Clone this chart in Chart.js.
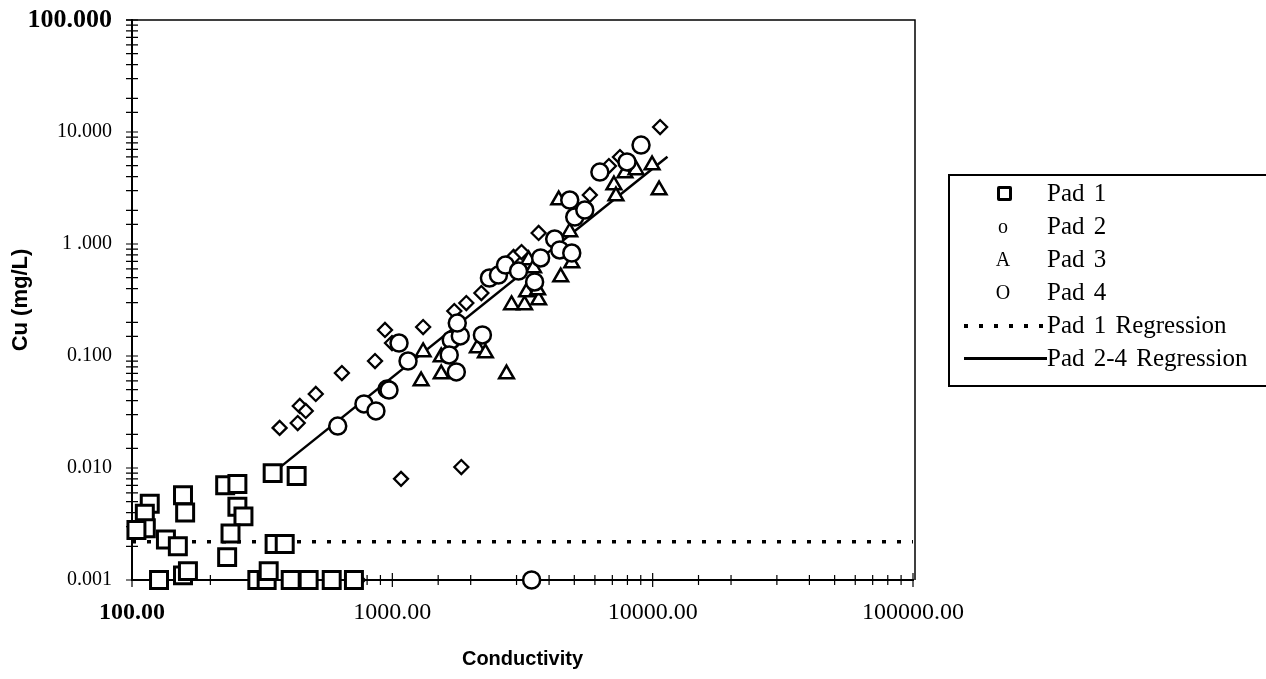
<!DOCTYPE html>
<html>
<head>
<meta charset="utf-8">
<script src="https://cdn.jsdelivr.net/npm/chart.js@4.4.1/dist/chart.umd.min.js"></script>
<style>
  body { margin: 0; background: #fff; }
  #wrap { position: relative; width: 1266px; height: 679px; overflow: hidden; }
  #legend { position: absolute; left: 948px; top: 174px; width: 340px; height: 213px;
            border: 2px solid #000; box-sizing: border-box; font-family: "Liberation Serif", serif; }
  .lab { position: absolute; left: 97px; font-size: 25px; line-height: 25px; white-space: pre; word-spacing: 3px; }
  .sym { position: absolute; font-size: 20px; line-height: 20px; text-align: center; width: 30px; left: 38px; }
</style>
</head>
<body>
<div id="wrap">
  <canvas id="cuChart" width="1266" height="679"></canvas>
  <div id="legend"></div>
</div>
<script>
// conductivity (x) and Cu mg/L (y)
var pad1Cond = [117, 112, 113, 104, 135, 150, 127, 157, 160, 157, 164, 228, 254, 254, 268, 239, 232, 347, 429, 353, 386, 303, 329, 335, 407, 477, 585, 712];
var pad1Cu = [0.0048, 0.0039, 0.0029, 0.0028, 0.0023, 0.0020, 0.0010, 0.0057, 0.0040, 0.0011, 0.0012, 0.0070, 0.0072, 0.0045, 0.0037, 0.0026, 0.0016, 0.0090, 0.0085, 0.0021, 0.0021, 0.0010, 0.0010, 0.0012, 0.0010, 0.0010, 0.0010, 0.0010];

var pad2Cond = [617, 778, 865, 954, 971, 1149, 1061, 1684, 1824, 1654, 1761, 2218, 1776, 2360, 2556, 2720, 3053, 3520, 3712, 4204, 4396, 4889, 4803, 5020, 5487, 6269, 7967, 9022, 3428];
var pad2Cu = [0.0237, 0.0373, 0.0323, 0.0507, 0.0497, 0.0902, 0.1306, 0.139, 0.151, 0.1021, 0.072, 0.154, 0.197, 0.497, 0.528, 0.649, 0.574, 0.458, 0.75, 1.108, 0.884, 0.831, 2.47, 1.742, 2.011, 4.39, 5.40, 7.65, 0.001];

var pad3Cond = [1313, 1541, 1290, 1541, 2122, 2278, 2745, 2870, 3220, 3278, 3647, 3614, 3337, 3488, 4434, 4889, 4803, 4356, 7827, 7099, 7227, 8630, 9948, 10585];
var pad3Cu = [0.1086, 0.0979, 0.0598, 0.069, 0.1179, 0.1063, 0.069, 0.2854, 0.2854, 0.3727, 0.3162, 0.388, 0.72, 0.611, 0.507, 0.676, 1.28, 2.47, 4.30, 3.36, 2.68, 4.58, 5.07, 3.03];

var pad4Cond = [369, 433, 441, 465, 508, 640, 858, 937, 997, 1313, 1080, 1841, 1730, 1924, 2198, 2922, 3135, 3647, 5736, 6790, 7488, 10680, 737];
var pad4Cu = [0.0228, 0.0252, 0.0358, 0.0323, 0.0458, 0.0705, 0.0902, 0.1707, 0.1306, 0.1815, 0.0080, 0.0102, 0.2522, 0.2973, 0.365, 0.766, 0.848, 1.254, 2.74, 4.97, 5.98, 11.08, 0.001];

// regression lines
var reg1Cond = [100, 100000];
var reg1Cu = [0.0022, 0.0022];
var reg24Cond = [347, 11400];
var reg24Cu = [0.0090, 6.0];

var xTickLabels = ['100.00', '1000.00', '10000.00', '100000.00'];
var yTickLabels = ['0.001', '0.010', '0.100', '1 .000', '10.000', '100.000'];
var legendLabels = ['Pad 1', 'Pad 2', 'Pad 3', 'Pad 4', 'Pad 1 Regression', 'Pad 2-4 Regression'];
var legendSymbols = ['', 'o', 'A', 'O', '', ''];

function pts(xs, ys) {
  return xs.map(function (v, i) { return { x: v, y: ys[i] }; });
}
function decade(v) {
  var l = Math.log10(v);
  return Math.abs(l - Math.round(l)) < 1e-6;
}

var frameTicks = {
  id: 'frameTicks',
  beforeDatasetsDraw: function (chart) {
    var ctx = chart.ctx, a = chart.chartArea;
    var xs = chart.scales.x, ys = chart.scales.y;
    ctx.save();
    ctx.strokeStyle = '#000';
    ctx.lineWidth = 1.5;
    ctx.beginPath();
    ctx.moveTo(a.left - 6, a.top);
    ctx.lineTo(a.right + 2, a.top);
    ctx.lineTo(a.right + 2, a.bottom);
    ctx.stroke();
    ctx.lineWidth = 1.2;
    ctx.beginPath();
    xs.ticks.forEach(function (t) {
      var p = xs.getPixelForValue(t.value);
      var len = decade(t.value) ? 7 : 5;
      ctx.moveTo(p, a.bottom - len);
      ctx.lineTo(p, a.bottom + len);
    });
    ys.ticks.forEach(function (t) {
      var p = ys.getPixelForValue(t.value);
      ctx.moveTo(a.left - 6, p);
      ctx.lineTo(a.left + 6, p);
    });
    ctx.stroke();
    ctx.restore();
  }
};

var markerBase = { borderColor: '#000', backgroundColor: '#fff', showLine: false, clip: false };

var ctx = document.getElementById('cuChart');
var cuChart = new Chart(ctx, {
  type: 'scatter',
  data: {
    datasets: [
      Object.assign({ label: 'Pad 1', data: pts(pad1Cond, pad1Cu), pointStyle: 'rect', pointRadius: 12, borderWidth: 3 }, markerBase),
      Object.assign({ label: 'Pad 2', data: pts(pad2Cond, pad2Cu), pointStyle: 'circle', pointRadius: 8.5, borderWidth: 2.5 }, markerBase),
      Object.assign({ label: 'Pad 3', data: pts(pad3Cond, pad3Cu), pointStyle: 'triangle', pointRadius: 8.5, borderWidth: 2.5 }, markerBase),
      Object.assign({ label: 'Pad 4', data: pts(pad4Cond, pad4Cu), pointStyle: 'rectRot', pointRadius: 7, borderWidth: 2.3 }, markerBase),
      { label: 'Pad 1 Regression', data: pts(reg1Cond, reg1Cu), showLine: true, pointRadius: 0,
        borderColor: '#000', borderWidth: 3.5, borderDash: [4, 11] },
      { label: 'Pad 2-4 Regression', data: pts(reg24Cond, reg24Cu), showLine: true, pointRadius: 0,
        borderColor: '#000', borderWidth: 2.5 }
    ]
  },
  options: {
    responsive: false,
    animation: false,
    layout: { padding: { left: 0, top: 20, right: 353, bottom: 0 } },
    plugins: { legend: { display: false }, tooltip: { enabled: false } },
    scales: {
      x: {
        type: 'logarithmic', min: 100, max: 100000,
        grid: { display: false, drawTicks: false },
        border: { display: true, color: '#000', width: 2 },
        afterFit: function (s) { s.height = 99; s.paddingLeft = 0; s.paddingRight = 0; },
        ticks: {
          autoSkip: false, maxRotation: 0, padding: 18, color: '#000',
          font: function (c) {
            var bold = c.tick && c.tick.value === 100;
            return { family: 'Liberation Serif', size: 24, weight: bold ? 'bold' : 'normal' };
          },
          callback: function (v) {
            return decade(v) ? xTickLabels[Math.round(Math.log10(v)) - 2] : '';
          }
        },
        title: { display: true, text: 'Conductivity', color: '#000', padding: { top: 0, bottom: 8 },
                 font: { family: 'Liberation Sans', size: 20, weight: 'bold' } }
      },
      y: {
        type: 'logarithmic', min: 0.001, max: 100,
        grid: { display: false, drawTicks: false },
        border: { display: true, color: '#000', width: 2 },
        afterFit: function (s) { s.width = 132; s.paddingTop = 0; s.paddingBottom = 0; },
        ticks: {
          autoSkip: false, padding: 20, color: '#000',
          font: function (c) {
            var top = c.tick && c.tick.value === 100;
            return { family: 'Liberation Serif', size: top ? 26 : 20, weight: top ? 'bold' : 'normal' };
          },
          callback: function (v) {
            return decade(v) ? yTickLabels[Math.round(Math.log10(v)) + 3] : '';
          }
        },
        title: { display: true, text: 'Cu (mg/L)', color: '#000', padding: { top: 8, bottom: 0 },
                 font: { family: 'Liberation Sans', size: 22, weight: 'bold' } }
      }
    }
  },
  plugins: [frameTicks]
});

// legend, built beside the chart
var legend = document.getElementById('legend');
legendLabels.forEach(function (txt, i) {
  var cy = 17 + 33 * i;
  var lab = document.createElement('div');
  lab.className = 'lab';
  lab.textContent = txt;
  lab.style.top = (cy - 13) + 'px';
  legend.appendChild(lab);
  if (i === 0) {
    var sq = document.createElement('div');
    sq.style.cssText = 'position:absolute;left:47px;top:' + (cy - 7) + 'px;width:9px;height:9px;border:3px solid #000;border-radius:2px;';
    legend.appendChild(sq);
  } else if (i < 4) {
    var s = document.createElement('div');
    s.className = 'sym';
    s.textContent = legendSymbols[i];
    s.style.top = (cy - 10) + 'px';
    legend.appendChild(s);
  } else {
    var ln = document.createElement('div');
    var style = i === 4
      ? 'background:repeating-linear-gradient(90deg,#000 0 4px,transparent 4px 15px);height:4px;'
      : 'background:#000;height:2.5px;';
    ln.style.cssText = 'position:absolute;left:14px;width:83px;top:' + (cy - 1) + 'px;' + style;
    legend.appendChild(ln);
  }
});
</script>
</body>
</html>
